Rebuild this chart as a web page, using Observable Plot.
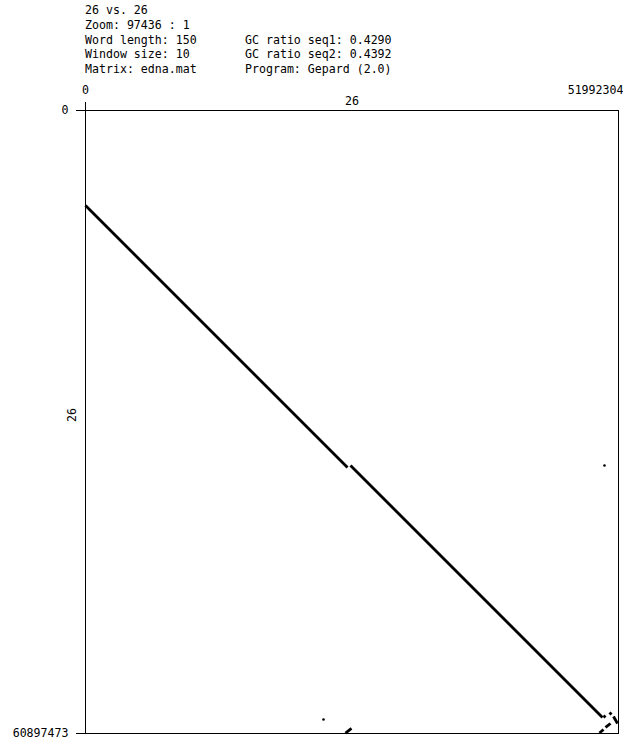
<!DOCTYPE html>
<html>
<head>
<meta charset="utf-8">
<script src="https://cdn.jsdelivr.net/npm/d3@7"></script>
<script src="https://cdn.jsdelivr.net/npm/@observablehq/plot@0.6"></script>
<style>
  html, body { margin: 0; padding: 0; background: #fff; }
  #wrap { position: relative; width: 623px; height: 739px; overflow: hidden; }
  #header { position: relative; height: 80px; font-family: "DejaVu Sans Mono", monospace; font-size: 11.6px; color: #000; }
  #header pre { position: absolute; top: 3px; margin: 0; font: inherit; line-height: 14.8px; }
  svg { display: block; }
</style>
</head>
<body>
<div id="wrap">
  <div id="header">
    <pre id="col1" style="left:85px"></pre>
    <pre id="col2" style="left:245px; top:32.6px"></pre>
  </div>
  <div id="chart"></div>
</div>
<script>
// Header text
const headerLeft = ["26 vs. 26", "Zoom: 97436 : 1", "Word length: 150", "Window size: 10", "Matrix: edna.mat"];
const headerRight = ["GC ratio seq1: 0.4290", "GC ratio seq2: 0.4392", "Program: Gepard (2.0)"];

// Sequence info
const seqXName = "26";
const seqYName = "26";
const seqXLength = 51992304;
const seqYLength = 60897473;
const xTicks = [0, seqXLength];
const yTicks = [0, seqYLength];

// Dotplot match segments (bp coordinates: x = seq1, y = seq2)
const segX1 = [0,        25850000, 50529000, 51114000, 51504000, 50139000, 50724000, 25362000];
const segY1 = [9286000,  34701000, 59138000, 58845000, 59236000, 60850000, 60304000, 60850000];
const segX2 = [25557000, 50431000, 50724000, 51309000, 51894000, 50529000, 51212000, 25947000];
const segY2 = [34896000, 59334000, 59334000, 59040000, 59920000, 60501000, 59920000, 60404000];

// Isolated match dots
const dotX = [23216000, 50626000];
const dotY = [59529000, 34701000];

document.getElementById("col1").textContent = headerLeft.join("\n");
document.getElementById("col2").textContent = headerRight.join("\n");

const segs = segX1.map((d, i) => ({x1: segX1[i], y1: segY1[i], x2: segX2[i], y2: segY2[i]}));
const dots = dotX.map((d, i) => ({x: dotX[i], y: dotY[i]}));

const chart = Plot.plot({
  width: 623,
  height: 659,
  marginTop: 30,
  marginBottom: 6,
  marginLeft: 85,
  marginRight: 5,
  style: {fontFamily: "DejaVu Sans Mono, monospace", fontSize: "11.6px", background: "#fff", color: "#000"},
  x: {domain: [0, seqXLength], axis: null},
  y: {domain: [0, seqYLength], reverse: true, axis: null},
  marks: [
    Plot.frame({stroke: "#000", strokeWidth: 1}),
    Plot.link(segs, {x1: "x1", y1: "y1", x2: "x2", y2: "y2", stroke: "#000", strokeWidth: 2.8}),
    Plot.dot(dots, {x: "x", y: "y", r: 1.3, fill: "#000", stroke: null}),
    Plot.axisX([xTicks[0]], {anchor: "top", tickSize: 9, tickPadding: 8, tickFormat: d => String(d), label: null}),
    Plot.axisX([xTicks[1]], {anchor: "top", tickSize: 9, tickPadding: 8, tickFormat: d => String(d), textAnchor: "end", dx: 5, label: null}),
    Plot.axisY(yTicks, {anchor: "left", tickSize: 9, tickPadding: 8, tickFormat: d => String(d), label: null}),
    Plot.text([seqXName], {frameAnchor: "top", dy: -14, text: d => d}),
    Plot.text([seqYName], {frameAnchor: "left", dx: -13, rotate: -90, text: d => d})
  ]
});
document.getElementById("chart").appendChild(chart);
</script>
</body>
</html>
